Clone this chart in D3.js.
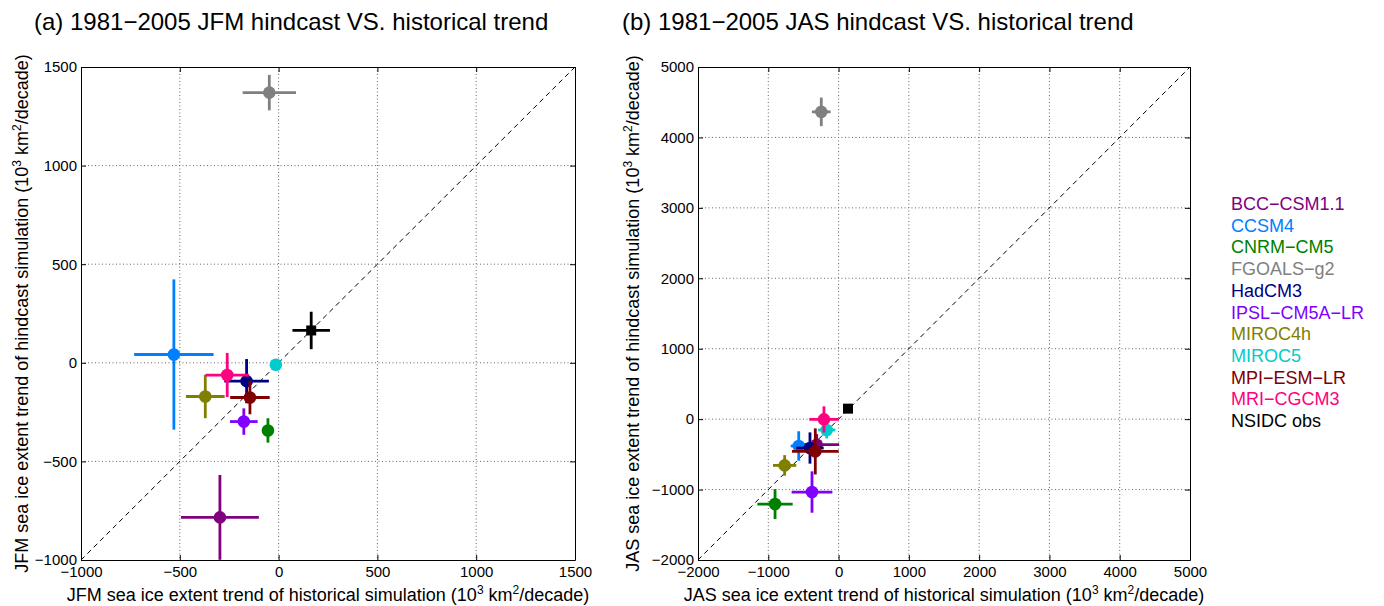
<!DOCTYPE html>
<html>
<head>
<meta charset="utf-8">
<script src="https://cdn.jsdelivr.net/npm/d3@7"></script>
<style>
  body { margin: 0; background: #fff; }
  text { font-family: "Liberation Sans", Arial, sans-serif; }
</style>
</head>
<body>
<div id="container"></div>
<script>
/* DATA */
const models = ["BCC\u2212CSM1.1", "CCSM4", "CNRM\u2212CM5", "FGOALS\u2212g2", "HadCM3",
  "IPSL\u2212CM5A\u2212LR", "MIROC4h", "MIROC5", "MPI\u2212ESM\u2212LR", "MRI\u2212CGCM3", "NSIDC obs"]
const colors = ["#800080", "#0080ff", "#008000", "#808080", "#000080",
  "#8000ff", "#808000", "#00cccc", "#800000", "#ff0080", "#000000"]

// (a) JFM: historical (x) vs hindcast (y), with spread
const jfmHist    = [-297, -530, -54, -47, -162, -176, -371, -14, -145, -260, 165]
const jfmHind    = [-784, 42, -343, 1370, -93, -298, -171, -10, -176, -62, 164]
const jfmHistErr = [197, 201, 25, 135, 113, 70, 98, 15, 100, 110, 95]
const jfmHindErr = [215, 381, 62, 90, 112, 67, 110, 15, 85, 112, 95]

// (b) JAS
const jasHist    = [-311, -567, -904, -246, -407, -378, -767, -169, -331, -208, 134]
const jasHind    = [-363, -381, -1206, 4363, -410, -1035, -657, -154, -458, -3, 149]
const jasHistErr = [320, 114, 251, 133, 195, 290, 166, 123, 332, 209, 40]
const jasHindErr = [150, 209, 213, 203, 222, 294, 146, 120, 327, 185, 40]

const jfmTicks = [-1000, -500, 0, 500, 1000, 1500]
const jasTicks = [-2000, -1000, 0, 1000, 2000, 3000, 4000, 5000]

/* CONSTANTS */
const width = 1384, height = 606

const svg = d3.select("#container")
  .append("svg")
  .attr("width", width)
  .attr("height", height)

function panel(opt) {
  const xScale = d3.scaleLinear().domain(opt.domain).range([opt.left, opt.right])
  const yScale = d3.scaleLinear().domain(opt.domain).range([opt.bottom, opt.top])
  const g = svg.append("g")

  g.append("clipPath").attr("id", opt.id)
    .append("rect")
    .attr("x", opt.left).attr("y", opt.top)
    .attr("width", opt.right - opt.left).attr("height", opt.bottom - opt.top)

  // grid
  g.selectAll(".gx").data(opt.ticks.slice(1, -1)).join("line")
    .attr("x1", d => xScale(d)).attr("x2", d => xScale(d))
    .attr("y1", opt.top).attr("y2", opt.bottom)
    .attr("stroke", "#666").attr("stroke-width", 1).attr("stroke-dasharray", "1,2.5")
  g.selectAll(".gy").data(opt.ticks.slice(1, -1)).join("line")
    .attr("y1", d => yScale(d)).attr("y2", d => yScale(d))
    .attr("x1", opt.left).attr("x2", opt.right)
    .attr("stroke", "#666").attr("stroke-width", 1).attr("stroke-dasharray", "1,2.5")

  // 1:1 line
  g.append("line")
    .attr("x1", xScale(opt.domain[0])).attr("y1", yScale(opt.domain[0]))
    .attr("x2", xScale(opt.domain[1])).attr("y2", yScale(opt.domain[1]))
    .attr("stroke", "#000").attr("stroke-width", 1).attr("stroke-dasharray", "5,4")

  // axes with inward ticks
  const tk = 5
  const ax = [
    [d3.axisBottom(xScale), `translate(0,${opt.bottom})`, 6],
    [d3.axisTop(xScale), `translate(0,${opt.top})`, 0],
    [d3.axisLeft(yScale), `translate(${opt.left},0)`, 4],
    [d3.axisRight(yScale), `translate(${opt.right},0)`, 0]
  ]
  ax.forEach(([a, tr, pad]) => {
    a.tickValues(opt.ticks).tickSize(-tk).tickSizeOuter(0).tickPadding(pad)
      .tickFormat(pad ? d3.format("d") : "")
    const ag = g.append("g").attr("transform", tr).call(a)
    ag.select(".domain").attr("stroke", "#000").attr("stroke-width", 1)
    ag.selectAll("text").attr("font-size", "15px").attr("fill", "#000")
      .attr("font-family", "Liberation Sans, Arial, sans-serif")
  })

  // points with error bars
  const pts = g.append("g").attr("clip-path", `url(#${opt.id})`)
  d3.range(models.length).forEach(i => {
    const cx = xScale(opt.x[i]), cy = yScale(opt.y[i])
    pts.append("line")
      .attr("x1", xScale(opt.x[i] - opt.xe[i])).attr("x2", xScale(opt.x[i] + opt.xe[i]))
      .attr("y1", cy).attr("y2", cy)
      .attr("stroke", colors[i]).attr("stroke-width", 2.8)
    pts.append("line")
      .attr("x1", cx).attr("x2", cx)
      .attr("y1", yScale(opt.y[i] - opt.ye[i])).attr("y2", yScale(opt.y[i] + opt.ye[i]))
      .attr("stroke", colors[i]).attr("stroke-width", 2.8)
    if (i === models.length - 1) {
      pts.append("rect").attr("x", cx - 5).attr("y", cy - 5)
        .attr("width", 10).attr("height", 10).attr("fill", colors[i])
    } else {
      pts.append("circle").attr("cx", cx).attr("cy", cy).attr("r", 6.3).attr("fill", colors[i])
    }
  })

  // title
  g.append("text").attr("x", opt.titleX).attr("y", 30)
    .attr("font-size", "24px").attr("fill", "#000").text(opt.title)

  // axis labels
  const cxm = (opt.left + opt.right) / 2, cym = (opt.top + opt.bottom) / 2
  const xl = g.append("text").attr("x", cxm).attr("y", 601)
    .attr("text-anchor", "middle").attr("font-size", "18px")
  unitLabel(xl, opt.season + " sea ice extent trend of historical simulation (10")
  const yl = g.append("text")
    .attr("transform", `translate(${opt.left - opt.ylabOff},${cym}) rotate(-90)`)
    .attr("text-anchor", "middle").attr("font-size", "18px")
  unitLabel(yl, opt.season + " sea ice extent trend of hindcast simulation (10")
}

function unitLabel(t, lead) {
  t.append("tspan").text(lead)
  t.append("tspan").attr("dy", -7).attr("font-size", "12px").text("3")
  t.append("tspan").attr("dy", 7).text(" km")
  t.append("tspan").attr("dy", -7).attr("font-size", "12px").text("2")
  t.append("tspan").attr("dy", 7).text("/decade)")
}

panel({ id: "clipA", left: 81, right: 575, top: 67, bottom: 560,
  domain: [-1000, 1500], ticks: jfmTicks, ylabOff: 53,
  x: jfmHist, y: jfmHind, xe: jfmHistErr, ye: jfmHindErr,
  season: "JFM", title: "(a) 1981\u22122005 JFM hindcast VS. historical trend", titleX: 34 })

panel({ id: "clipB", left: 698, right: 1190, top: 67, bottom: 560,
  domain: [-2000, 5000], ticks: jasTicks, ylabOff: 59,
  x: jasHist, y: jasHind, xe: jasHistErr, ye: jasHindErr,
  season: "JAS", title: "(b) 1981\u22122005 JAS hindcast VS. historical trend", titleX: 622 })

// legend
svg.append("g").selectAll("text")
  .data(models)
  .join("text")
  .attr("x", 1231)
  .attr("y", (d, i) => 210 + i * 21.7)
  .attr("font-size", "18px")
  .attr("fill", (d, i) => colors[i])
  .text(d => d)
</script>
</body>
</html>
